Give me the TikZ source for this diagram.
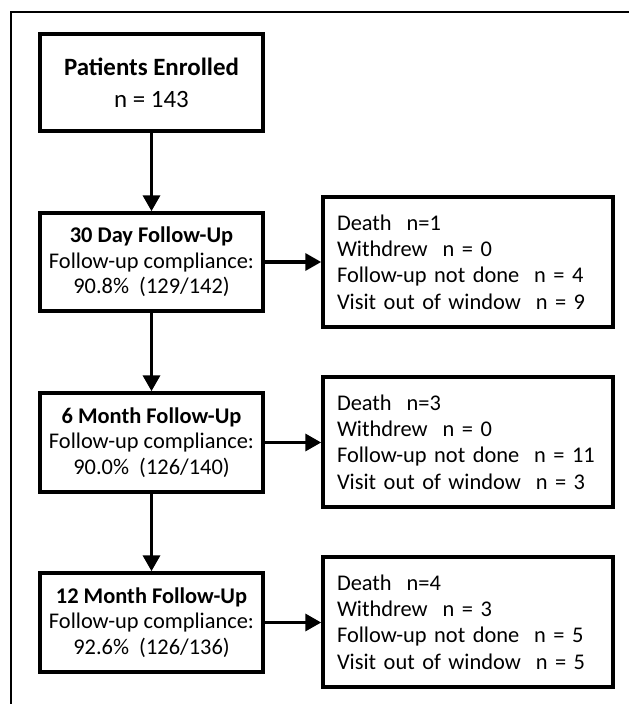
\documentclass[tikz,border=0pt]{standalone}
\usepackage{fontspec}
\setmainfont{Carlito}
\usetikzlibrary{arrows.meta}
\begin{document}
\begin{tikzpicture}[x=1bp,y=-1bp,
  lbox/.style={draw=black,line width=3.5bp,minimum width=223bp,inner sep=0pt,align=center,
    font=\fontsize{22.5}{25.5}\selectfont},
  rbox/.style={draw=black,line width=3.5bp,minimum width=290bp,minimum height=130bp,
    text width=262bp,inner xsep=14bp,inner ysep=0pt,align=left,
    font=\fontsize{22.5}{26.3}\selectfont},
  arr/.style={line width=3.5bp,-{Triangle[width=17bp,length=16bp]}},
  frameline/.style={line width=1.3bp}]
\useasboundingbox (0,0) rectangle (629,704);
\draw[frameline] (11,704) -- (11,12) -- (629,12);
\node[lbox,minimum height=97bp,font=\fontsize{25}{32}\selectfont] (b1) at (151.5,82.5)
  {\textbf{Patients Enrolled}\\n = 143};
\node[lbox,minimum height=98bp] (b2) at (151.5,262)
  {\textbf{30 Day Follow-Up}\\Follow-up compliance:\\90.8\%~~(129/142)};
\node[lbox,minimum height=99bp] (b3) at (151.5,442.5)
  {\textbf{6 Month Follow-Up}\\Follow-up compliance:\\90.0\%~~(126/140)};
\node[lbox,minimum height=99bp] (b4) at (151.5,622.5)
  {\textbf{12 Month Follow-Up}\\Follow-up compliance:\\92.6\%~~(126/136)};
\node[rbox] (r1) at (468,262)
  {Death~~n=1\\Withdrew~~n = 0\\Follow-up not done~~n = 4\\Visit out of window~~n = 9};
\node[rbox] (r2) at (468,442)
  {Death~~n=3\\Withdrew~~n = 0\\Follow-up not done~~n = 11\\Visit out of window~~n = 3};
\node[rbox] (r3) at (468,622)
  {Death~~n=4\\Withdrew~~n = 3\\Follow-up not done~~n = 5\\Visit out of window~~n = 5};
\draw[arr] (b1) -- (b2);
\draw[arr] (b2) -- (b3);
\draw[arr] (b3) -- (b4);
\draw[arr] (b2.east) -- (b2.east -| r1.west);
\draw[arr] (b3.east) -- (b3.east -| r2.west);
\draw[arr] (b4.east) -- (b4.east -| r3.west);
\end{tikzpicture}
\end{document}
